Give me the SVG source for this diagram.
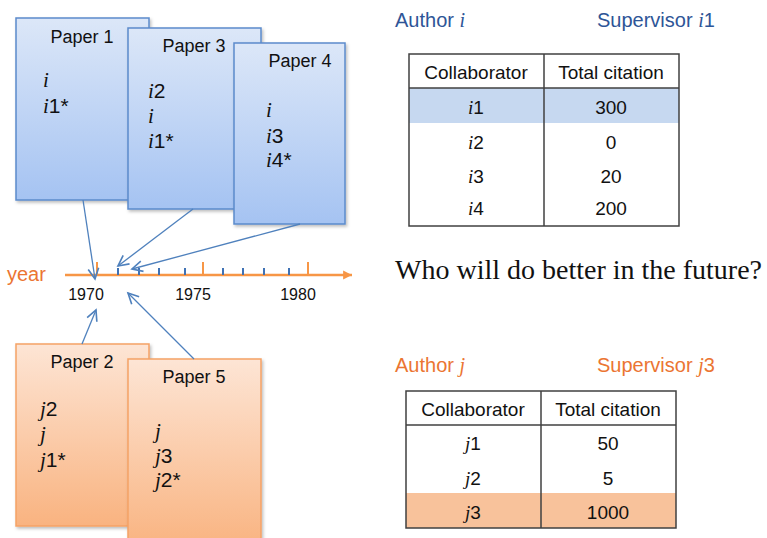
<svg xmlns="http://www.w3.org/2000/svg" width="767" height="538" viewBox="0 0 767 538">
  <defs>
    <linearGradient id="gBlue" x1="0" y1="0" x2="0" y2="1">
      <stop offset="0" stop-color="#DCE7F8"/>
      <stop offset="1" stop-color="#A5C3F2"/>
    </linearGradient>
    <linearGradient id="gOrange" x1="0" y1="0" x2="0" y2="1">
      <stop offset="0" stop-color="#FDE5D5"/>
      <stop offset="1" stop-color="#F9B380"/>
    </linearGradient>
    <filter id="shadow" x="-10%" y="-10%" width="130%" height="130%">
      <feDropShadow dx="1.5" dy="2" stdDeviation="1.5" flood-color="#000" flood-opacity="0.25"/>
    </filter>
    <marker id="arrowOpen" markerUnits="userSpaceOnUse" markerWidth="14" markerHeight="14" refX="10" refY="5" orient="auto" viewBox="0 0 12 10">
      <path d="M1,0.5 L10,5 L1,9.5" fill="none" stroke="#4F81BD" stroke-width="1.4"/>
    </marker>
    <marker id="axisHead" markerUnits="userSpaceOnUse" markerWidth="10" markerHeight="10" refX="8" refY="4" orient="auto" viewBox="0 0 9 8">
      <path d="M0,0 L8,4 L0,8 Z" fill="#F79646"/>
    </marker>
  </defs>
  <style>
    .var { font-family: "Liberation Serif", "Times New Roman", serif; font-style: italic; }
    .paperBlue { fill: url(#gBlue); stroke: #5B8BCB; stroke-width: 1.5; filter: url(#shadow); }
    .paperOrange { fill: url(#gOrange); stroke: #F5A266; stroke-width: 1.5; filter: url(#shadow); }
    .title { font-family: "Liberation Sans", Arial, sans-serif; font-size: 18px; fill: #111; text-anchor: middle; }
    .body { font-family: "Liberation Sans", Arial, sans-serif; font-size: 21px; fill: #111; }
    .link { stroke: #4F81BD; stroke-width: 1.3; fill: none; marker-end: url(#arrowOpen); }
    .major { stroke: #F79646; stroke-width: 2; }
    .minor { stroke: #3F72B5; stroke-width: 2; }
    .yearLbl { font-family: "Liberation Sans", Arial, sans-serif; font-size: 16px; fill: #111; text-anchor: middle; }
    .cell { font-family: "Liberation Sans", Arial, sans-serif; font-size: 19px; fill: #111; text-anchor: middle; }
    .grid { stroke: #404040; stroke-width: 1.5; fill: none; }
    .headBlue { font-family: "Liberation Sans", Arial, sans-serif; font-size: 20px; fill: #2E5597; }
    .headOrange { font-family: "Liberation Sans", Arial, sans-serif; font-size: 20px; fill: #EB7532; }
  </style>

  <!-- Papers by author i -->
  <g id="paper1">
    <rect class="paperBlue" x="16" y="18" width="133" height="182"/>
    <text class="title" x="82" y="43">Paper 1</text>
    <text class="body" x="43" y="87"><tspan class="var">i</tspan></text>
    <text class="body" x="43" y="113"><tspan class="var">i</tspan>1*</text>
  </g>
  <g id="paper3">
    <rect class="paperBlue" x="128" y="28" width="133" height="181"/>
    <text class="title" x="194" y="52">Paper 3</text>
    <text class="body" x="148" y="98"><tspan class="var">i</tspan>2</text>
    <text class="body" x="148" y="123"><tspan class="var">i</tspan></text>
    <text class="body" x="148" y="148"><tspan class="var">i</tspan>1*</text>
  </g>
  <g id="paper4">
    <rect class="paperBlue" x="234" y="43" width="111" height="181"/>
    <text class="title" x="300" y="67">Paper 4</text>
    <text class="body" x="266" y="117"><tspan class="var">i</tspan></text>
    <text class="body" x="266" y="143"><tspan class="var">i</tspan>3</text>
    <text class="body" x="266" y="167"><tspan class="var">i</tspan>4*</text>
  </g>

  <!-- Papers by author j -->
  <g id="paper2">
    <rect class="paperOrange" x="16" y="344" width="133" height="182"/>
    <text class="title" x="82" y="368">Paper 2</text>
    <text class="body" x="40" y="416"><tspan class="var">j</tspan>2</text>
    <text class="body" x="40" y="441"><tspan class="var">j</tspan></text>
    <text class="body" x="40" y="467"><tspan class="var">j</tspan>1*</text>
  </g>
  <g id="paper5">
    <rect class="paperOrange" x="128" y="359" width="133" height="190"/>
    <text class="title" x="194" y="383">Paper 5</text>
    <text class="body" x="155" y="438"><tspan class="var">j</tspan></text>
    <text class="body" x="155" y="463"><tspan class="var">j</tspan>3</text>
    <text class="body" x="155" y="487"><tspan class="var">j</tspan>2*</text>
  </g>

  <!-- Year axis -->
  <g id="timeline">
    <text x="7" y="281" font-family="Liberation Sans, Arial, sans-serif" font-size="20" fill="#EB7532">year</text>
    <line x1="65" y1="275" x2="352" y2="275" stroke="#F79646" stroke-width="2.5" marker-end="url(#axisHead)"/>
    <line class="major" x1="97" y1="262" x2="97" y2="275"/>
    <line class="major" x1="203" y1="262" x2="203" y2="275"/>
    <line class="major" x1="308" y1="262" x2="308" y2="275"/>
    <line class="minor" x1="118" y1="268" x2="118" y2="275"/>
    <line class="minor" x1="139" y1="268" x2="139" y2="275"/>
    <line class="minor" x1="159" y1="268" x2="159" y2="275"/>
    <line class="minor" x1="185" y1="268" x2="185" y2="275"/>
    <line class="minor" x1="223" y1="268" x2="223" y2="275"/>
    <line class="minor" x1="243" y1="268" x2="243" y2="275"/>
    <line class="minor" x1="264" y1="268" x2="264" y2="275"/>
    <line class="minor" x1="289" y1="268" x2="289" y2="275"/>
    <text class="yearLbl" x="86" y="300">1970</text>
    <text class="yearLbl" x="193" y="300">1975</text>
    <text class="yearLbl" x="298" y="300">1980</text>
  </g>

  <!-- Publication links to the axis -->
  <g id="connectors">
    <line class="link" x1="83" y1="200" x2="95" y2="279"/>
    <line class="link" x1="193" y1="209" x2="118" y2="266"/>
    <line class="link" x1="300" y1="224" x2="132" y2="269"/>
    <line class="link" x1="82" y1="344" x2="96" y2="310"/>
    <line class="link" x1="194" y1="359" x2="128" y2="293"/>
  </g>

  <!-- Author i summary -->
  <g id="authorI">
    <text class="headBlue" x="395" y="27">Author <tspan class="var">i</tspan></text>
    <text class="headBlue" x="597" y="27">Supervisor <tspan class="var">i</tspan>1</text>
    <rect x="409" y="88" width="270" height="35" fill="#C6D8F0"/>
    <rect class="grid" x="409" y="54" width="270" height="172"/>
    <line class="grid" x1="409" y1="88" x2="679" y2="88"/>
    <line class="grid" x1="544" y1="54" x2="544" y2="226"/>
    <text class="cell" x="476" y="79">Collaborator</text>
    <text class="cell" x="611" y="79">Total citation</text>
    <text class="cell" x="476" y="114" fill="#2E5597"><tspan class="var">i</tspan>1</text>
    <text class="cell" x="611" y="114">300</text>
    <text class="cell" x="476" y="149"><tspan class="var">i</tspan>2</text>
    <text class="cell" x="611" y="149">0</text>
    <text class="cell" x="476" y="183"><tspan class="var">i</tspan>3</text>
    <text class="cell" x="611" y="183">20</text>
    <text class="cell" x="476" y="215"><tspan class="var">i</tspan>4</text>
    <text class="cell" x="611" y="215">200</text>
  </g>

  <g id="question">
    <text x="395" y="279" font-family="Liberation Serif, Times New Roman, serif" font-size="28" fill="#111">Who will do better in the future?</text>
  </g>

  <!-- Author j summary -->
  <g id="authorJ">
    <text class="headOrange" x="395" y="372">Author <tspan class="var">j</tspan></text>
    <text class="headOrange" x="597" y="372">Supervisor <tspan class="var">j</tspan>3</text>
    <rect x="406" y="493" width="270" height="35" fill="#F8C29B"/>
    <rect class="grid" x="406" y="391" width="270" height="137"/>
    <line class="grid" x1="406" y1="425" x2="676" y2="425"/>
    <line class="grid" x1="541" y1="391" x2="541" y2="528"/>
    <text class="cell" x="473" y="416">Collaborator</text>
    <text class="cell" x="608" y="416">Total citation</text>
    <text class="cell" x="473" y="450"><tspan class="var">j</tspan>1</text>
    <text class="cell" x="608" y="450">50</text>
    <text class="cell" x="473" y="485"><tspan class="var">j</tspan>2</text>
    <text class="cell" x="608" y="485">5</text>
    <text class="cell" x="473" y="519"><tspan class="var">j</tspan>3</text>
    <text class="cell" x="608" y="519">1000</text>
  </g>
</svg>
